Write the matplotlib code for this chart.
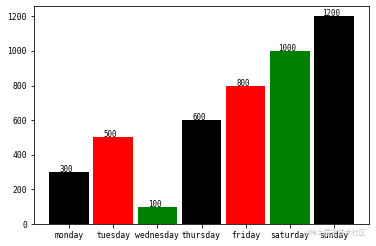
import matplotlib
matplotlib.use("Agg")
import matplotlib.pyplot as plt

days = ["monday", "tuesday", "wednesday", "thursday", "friday", "saturday", "sunday"]
values = [300, 500, 100, 600, 800, 1000, 1200]
colors = ["black", "red", "green", "black", "red", "green", "black"]

plt.rcParams['font.family'] = ['DejaVu Sans Mono', 'Noto Sans CJK SC']
plt.rcParams['font.size'] = 8

fig = plt.figure(figsize=(376 / 72, 246 / 72), dpi=72)
ax = fig.add_axes([34 / 376, 1 - 224 / 246, 335 / 376, 218 / 246])

x = range(len(days))
ax.bar(x, values, width=0.9, color=colors)
# value labels sit just on top of each bar
for i, v in zip(x, values):
    ax.text(i - 0.06, v, str(v), ha="center", va="baseline", fontsize=7.5)

ax.set_xticks(list(x))
ax.set_xticklabels(days)

# watermark
fig.text(0.975, 1 - 233 / 246, "@稀土掘金技术社区", ha="right", va="center",
         fontsize=7, color="#c8c8c8", family=["Noto Sans CJK SC"])

fig.savefig("out.png", dpi=72)
